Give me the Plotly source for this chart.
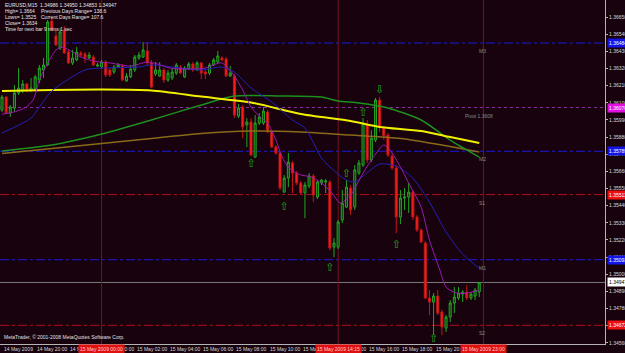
import plotly.graph_objects as go

# ---------------- data ----------------
bar_index = list(range(116))
opens = [1.36054, 1.36137, 1.36035, 1.36067, 1.36163, 1.36182, 1.36221, 1.36182, 1.36189, 1.36246,
         1.36311, 1.36343, 1.36625, 1.36529, 1.36452, 1.36567, 1.36426, 1.36356, 1.36375, 1.36420,
         1.36413, 1.36388, 1.36394, 1.36336, 1.36330, 1.36362, 1.36311, 1.36298, 1.36330, 1.36336,
         1.36240, 1.36266, 1.36311, 1.36388, 1.36394, 1.36433, 1.36356, 1.36285, 1.36272, 1.36311,
         1.36246, 1.36259, 1.36291, 1.36330, 1.36266, 1.36317, 1.36349, 1.36311, 1.36356, 1.36298,
         1.36291, 1.36343, 1.36362, 1.36388, 1.36381, 1.36272, 1.36272, 1.36015, 1.36073, 1.35958,
         1.35977, 1.35752, 1.35970, 1.35970, 1.36041, 1.35913, 1.35816, 1.35778, 1.35527, 1.35617,
         1.35714, 1.35649, 1.35585, 1.35521, 1.35566, 1.35630, 1.35495, 1.35585, 1.35592, 1.35592,
         1.35174, 1.35174, 1.35348, 1.35431, 1.35553, 1.35431, 1.35649, 1.35701, 1.35958, 1.35733,
         1.35861, 1.36118, 1.35938, 1.35893, 1.35758, 1.35681, 1.35367, 1.35489, 1.35495, 1.35527,
         1.35367, 1.35283, 1.35200, 1.34847, 1.34821, 1.34860, 1.34757, 1.34654, 1.34725, 1.34815,
         1.34847, 1.34872, 1.34885, 1.34847, 1.34860, 1.34886]
highs = [1.36150, 1.36144, 1.36086, 1.36214, 1.36323, 1.36246, 1.36227, 1.36259, 1.36279, 1.36343,
         1.36388, 1.36632, 1.36644, 1.36567, 1.36580, 1.36593, 1.36439, 1.36439, 1.36458, 1.36433,
         1.36426, 1.36426, 1.36407, 1.36356, 1.36375, 1.36375, 1.36323, 1.36343, 1.36356, 1.36349,
         1.36291, 1.36343, 1.36407, 1.36426, 1.36490, 1.36490, 1.36375, 1.36362, 1.36362, 1.36323,
         1.36311, 1.36323, 1.36356, 1.36343, 1.36336, 1.36362, 1.36362, 1.36368, 1.36362, 1.36311,
         1.36356, 1.36388, 1.36433, 1.36401, 1.36394, 1.36336, 1.36285, 1.36092, 1.36086, 1.36002,
         1.36002, 1.36022, 1.36035, 1.36073, 1.36054, 1.35925, 1.35829, 1.35791, 1.35637, 1.35778,
         1.35726, 1.35662, 1.35598, 1.35592, 1.35649, 1.35643, 1.35604, 1.35611, 1.35611, 1.35604,
         1.35232, 1.35348, 1.35540, 1.35604, 1.35572, 1.35701, 1.35733, 1.36002, 1.35990, 1.35925,
         1.36131, 1.36137, 1.35945, 1.35906, 1.35778, 1.35701, 1.35540, 1.35553, 1.35585, 1.35540,
         1.35380, 1.35296, 1.35213, 1.34898, 1.34879, 1.34898, 1.34770, 1.34738, 1.34834, 1.34917,
         1.34917, 1.34898, 1.34930, 1.34885, 1.34911, 1.34950]
lows = [1.36041, 1.36028, 1.36009, 1.36041, 1.36150, 1.36163, 1.36169, 1.36169, 1.36176, 1.36227,
        1.36259, 1.36336, 1.36561, 1.36465, 1.36439, 1.36413, 1.36349, 1.36343, 1.36368, 1.36394,
        1.36356, 1.36381, 1.36336, 1.36330, 1.36323, 1.36266, 1.36266, 1.36285, 1.36323, 1.36240,
        1.36234, 1.36259, 1.36298, 1.36375, 1.36388, 1.36343, 1.36195, 1.36272, 1.36266, 1.36227,
        1.36234, 1.36246, 1.36279, 1.36285, 1.36259, 1.36311, 1.36298, 1.36304, 1.36253, 1.36253,
        1.36279, 1.36336, 1.36356, 1.36368, 1.36266, 1.36266, 1.36002, 1.36002, 1.35874, 1.35816,
        1.35758, 1.35746, 1.35958, 1.35958, 1.35906, 1.35810, 1.35765, 1.35540, 1.35521, 1.35559,
        1.35521, 1.35572, 1.35515, 1.35360, 1.35553, 1.35463, 1.35482, 1.35572, 1.35521, 1.35155,
        1.35110, 1.35161, 1.35328, 1.35425, 1.35380, 1.35412, 1.35637, 1.35688, 1.35714, 1.35720,
        1.35848, 1.35913, 1.35861, 1.35752, 1.35669, 1.35264, 1.35322, 1.35412, 1.35393, 1.35348,
        1.35271, 1.35200, 1.34840, 1.34738, 1.34609, 1.34738, 1.34609, 1.34629, 1.34693, 1.34750,
        1.34834, 1.34821, 1.34834, 1.34834, 1.34834, 1.34853]
closes = [1.36137, 1.36035, 1.36073, 1.36163, 1.36195, 1.36221, 1.36182, 1.36195, 1.36266, 1.36323,
          1.36343, 1.36619, 1.36567, 1.36471, 1.36555, 1.36420, 1.36356, 1.36388, 1.36426, 1.36407,
          1.36388, 1.36407, 1.36343, 1.36343, 1.36362, 1.36279, 1.36279, 1.36330, 1.36343, 1.36246,
          1.36272, 1.36317, 1.36394, 1.36407, 1.36439, 1.36356, 1.36201, 1.36311, 1.36311, 1.36246,
          1.36291, 1.36298, 1.36343, 1.36291, 1.36323, 1.36349, 1.36311, 1.36356, 1.36291, 1.36285,
          1.36343, 1.36375, 1.36401, 1.36375, 1.36272, 1.36291, 1.36022, 1.36067, 1.35945, 1.35977,
          1.35765, 1.35970, 1.36009, 1.36047, 1.35913, 1.35816, 1.35778, 1.35553, 1.35617, 1.35720,
          1.35649, 1.35585, 1.35521, 1.35572, 1.35630, 1.35508, 1.35592, 1.35604, 1.35598, 1.35168,
          1.35200, 1.35335, 1.35457, 1.35559, 1.35412, 1.35669, 1.35714, 1.35970, 1.35733, 1.35874,
          1.36118, 1.35945, 1.35887, 1.35765, 1.35681, 1.35367, 1.35489, 1.35495, 1.35527, 1.35367,
          1.35283, 1.35206, 1.34847, 1.34821, 1.34860, 1.34750, 1.34661, 1.34725, 1.34815, 1.34853,
          1.34879, 1.34885, 1.34847, 1.34872, 1.34898, 1.34947]

# moving averages (sampled at bar positions)
ma_yellow_x = [0, 12, 24, 36, 48, 60, 72, 84, 91, 101, 108, 115]
ma_yellow_y = [1.36176, 1.36182, 1.36185, 1.36179, 1.36140, 1.36102, 1.36028, 1.35983, 1.35945, 1.35919, 1.35880, 1.35842]
ma_green_x = [0, 12, 24, 36, 48, 56, 67, 77, 81, 86, 93, 101, 108, 115]
ma_green_y = [1.35791, 1.35829, 1.35900, 1.35990, 1.36086, 1.36144, 1.36144, 1.36137, 1.36112, 1.36099, 1.36067, 1.35990, 1.35861, 1.35752]
ma_brown_x = [0, 12, 24, 36, 48, 60, 72, 84, 96, 106, 115]
ma_brown_y = [1.35775, 1.35807, 1.35839, 1.35871, 1.35903, 1.35919, 1.35913, 1.35893, 1.35871, 1.35829, 1.35784]
ma_blue_x = [0, 7, 9, 12, 20, 24, 33, 36, 48, 53, 56, 60, 65, 70, 73, 77, 79, 83, 85, 87, 91, 95, 99, 103, 107, 111, 115]
ma_blue_y = [1.35906, 1.36002, 1.36073, 1.36176, 1.36311, 1.36323, 1.36330, 1.36343, 1.36311, 1.36330, 1.36298,
             1.36195, 1.36105, 1.35990, 1.35938, 1.35746, 1.35688, 1.35604, 1.35592, 1.35630, 1.35707, 1.35694,
             1.35617, 1.35463, 1.35271, 1.35129, 1.35039]
ma_purple_x = [0, 2, 5.5, 7.5, 9, 10.5, 13, 14.5, 17, 19, 21, 23.5, 26, 31, 35, 37.5, 40.5, 45, 49, 51.5, 53,
               55.5, 58, 60, 62.5, 64, 66, 67.5, 69, 70.5, 72, 74.5, 77, 79.5, 81.5, 84, 87, 89.5, 92, 93.5,
               96, 98.5, 101, 103, 105.5, 107, 109.5, 112, 115]
ma_purple_y = [1.36028, 1.36035, 1.36067, 1.36118, 1.36246, 1.36330, 1.36439, 1.36458, 1.36426, 1.36394, 1.36375,
               1.36362, 1.36356, 1.36336, 1.36362, 1.36349, 1.36323, 1.36317, 1.36323, 1.36349, 1.36356,
               1.36291, 1.36182, 1.36073, 1.36002, 1.35970, 1.35861, 1.35752, 1.35688, 1.35656, 1.35637,
               1.35624, 1.35585, 1.35521, 1.35457, 1.35508, 1.35649, 1.35752, 1.35829, 1.35797,
               1.35688, 1.35559, 1.35431, 1.35219, 1.35027, 1.34917, 1.34879, 1.34879, 1.34898]

# fractal arrows
arrow_x = [60, 68, 79, 83, 87, 91, 95, 104]
arrow_y = [1.35704, 1.35428, 1.35041, 1.35641, 1.36033, 1.36178, 1.35184, 1.34584]
arrow_dir = ["up", "up", "up", "up", "up", "down", "up", "up"]

# pivot levels
pivot_names = ["M3", "Pivot 1.3608", "M2", "S1", "M1", "S2"]
pivot_levels = [1.36484, 1.36070, 1.35789, 1.35511, 1.35093, 1.34672]
pivot_kind = ["m", "p", "m", "s", "m", "s"]
current_price = 1.34947

# price axis ticks
price_ticks = [1.34560, 1.34670, 1.34780, 1.34890, 1.35000, 1.35110, 1.35220, 1.35330, 1.35440, 1.35550,
               1.35660, 1.35770, 1.35880, 1.35990, 1.36100, 1.36210, 1.36320, 1.36430, 1.36540, 1.36650]
# time axis labels
time_tick_bars = [0, 8, 16, 24, 32, 40, 48, 56, 64, 72, 80, 88, 96, 104, 112]
time_tick_text = ["14 May 2009", "14 May 20:00", "14 May 22:00", "15 May 00:00", "15 May 02:00",
                  "15 May 04:00", "15 May 06:00", "15 May 08:00", "15 May 10:00", "15 May 12:00",
                  "15 May 14:00", "15 May 16:00", "15 May 18:00", "15 May 20:00", "15 May 22:00"]
vline_bars = [24, 81, 116]
vline_text = ["15 May 2009 00:00", "15 May 2009 14:15", "15 May 2009 23:00"]

header_lines = ["EURUSD,M15  1.34986 1.34950 1.34853 1.34947",
                "High= 1.3664", "Lows= 1.3525", "Close= 1.3634",
                "Time for next bar 9 mins 1 sec"]
header_right = ["Previous Days Range= 138.6", "Current Days Range= 107.6"]

# ---------------- figure ----------------
BG = "#17020d"
W, H = 625, 353
PW, PH = 605, 344
FONT = "Liberation Sans"

def px(x):
    return x / PW

def py(y):
    return 1 - y / PH

fig = go.Figure()

ma_specs = [
    (ma_brown_x, ma_brown_y, "#8a6a1a", 1.5),
    (ma_green_x, ma_green_y, "#1f8f1f", 1.5),
    (ma_yellow_x, ma_yellow_y, "#f0f000", 2),
    (ma_blue_x, ma_blue_y, "#2222b8", 1),
    (ma_purple_x, ma_purple_y, "#9c1ab4", 1),
]
for xs, ys, col, w in ma_specs:
    fig.add_trace(go.Scatter(x=xs, y=ys, mode="lines",
                             line=dict(color=col, width=w, shape="spline", smoothing=0.7),
                             hoverinfo="skip", showlegend=False))

fig.add_trace(go.Candlestick(
    x=bar_index, open=opens, high=highs, low=lows, close=closes,
    increasing=dict(line=dict(color="#22a622", width=1), fillcolor="#0d3a10"),
    decreasing=dict(line=dict(color="#c41616", width=1), fillcolor="#ff2020"),
    whiskerwidth=0, showlegend=False))

fig.add_trace(go.Scatter(
    x=arrow_x, y=arrow_y, mode="text",
    text=["⇧" if d == "up" else "⇩" for d in arrow_dir],
    textposition="middle center",
    textfont=dict(color="#22a622", size=11, family="DejaVu Sans"),
    hoverinfo="skip", showlegend=False))

shapes = []
annotations = []

# pivot lines
for name, lvl, kind in zip(pivot_names, pivot_levels, pivot_kind):
    if kind == "m":
        col, dash, box = "#1c1cd8", "dashdot", "#1414e6"
    elif kind == "s":
        col, dash, box = "#b01020", "dashdot", "#ee1010"
    else:
        col, dash, box = "#8a2aa0", "dot", "#e010e0"
    shapes.append(dict(type="line", xref="paper", x0=0, x1=1, yref="y", y0=lvl, y1=lvl,
                       line=dict(color=col, width=1, dash=dash), layer="below"))
    lx = px(463) if kind == "p" else px(477)
    annotations.append(dict(xref="paper", yref="y", x=lx, y=lvl, yshift=-3, xanchor="left",
                            yanchor="top", text=name, showarrow=False,
                            font=dict(size=5, color="#8a8a8a", family=FONT)))
    annotations.append(dict(xref="paper", yref="y", x=1, xshift=2, y=lvl, xanchor="left",
                            yanchor="middle", text=f"{lvl:.5f}", showarrow=False, bgcolor=box,
                            borderpad=1, font=dict(size=5, color="#ffffff", family=FONT)))

# current price line
shapes.append(dict(type="line", xref="paper", x0=0, x1=1, yref="y", y0=current_price, y1=current_price,
                   line=dict(color="#7c7c7c", width=1), layer="below"))
annotations.append(dict(xref="paper", yref="y", x=1, xshift=2, y=current_price, xanchor="left",
                        yanchor="middle", text=f"{current_price:.5f}", showarrow=False, bgcolor="#ffffff",
                        borderpad=1, font=dict(size=5, color="#000000", family=FONT)))

# time axis labels (left-aligned at their bar, as in the terminal)
for b, t in zip(time_tick_bars, time_tick_text):
    annotations.append(dict(xref="x", yref="paper", x=b, y=py(349), xanchor="left", yanchor="middle",
                            text=t, showarrow=False, font=dict(size=5, color="#d8d8d8", family=FONT)))

# vertical separators
for b, t in zip(vline_bars, vline_text):
    shapes.append(dict(type="line", xref="x", x0=b, x1=b, yref="paper", y0=0, y1=1,
                       line=dict(color="#7a1222", width=1), layer="below"))
    annotations.append(dict(xref="x", yref="paper", x=b, y=py(349), xanchor="center",
                            yanchor="middle", text=t, showarrow=False, bgcolor="#e01010",
                            borderpad=1, font=dict(size=5, color="#ffd0d0", family=FONT)))

# header text
for k, line in enumerate(header_lines):
    annotations.append(dict(xref="paper", yref="paper", x=px(3), y=py(5 + 6 * k), xanchor="left",
                            yanchor="middle", text=line, showarrow=False,
                            font=dict(size=5, color="#e8e8e8", family=FONT)))
for k, line in enumerate(header_right):
    annotations.append(dict(xref="paper", yref="paper", x=px(39), y=py(11 + 6 * k), xanchor="left",
                            yanchor="middle", text=line, showarrow=False,
                            font=dict(size=5, color="#e8e8e8", family=FONT)))
annotations.append(dict(xref="paper", yref="paper", x=px(2), y=py(337), xanchor="left",
                        yanchor="middle", text="MetaTrader, © 2001-2008 MetaQuotes Software Corp.",
                        showarrow=False, font=dict(size=5, color="#e0e0e0", family=FONT)))

fig.update_layout(
    width=W, height=H,
    margin=dict(l=0, r=W - PW, t=0, b=H - PH, pad=0),
    paper_bgcolor=BG, plot_bgcolor=BG,
    showlegend=False,
    shapes=shapes, annotations=annotations,
    xaxis=dict(range=[-0.48, 145.3], showgrid=False, zeroline=False, automargin=False,
               showline=True, linecolor="#b4b4b4", linewidth=1, mirror=False,
               showticklabels=False, ticks="",
               rangeslider=dict(visible=False), fixedrange=True),
    yaxis=dict(range=[1.34552, 1.3676], side="right", showgrid=False, zeroline=False, automargin=False,
               showline=True, linecolor="#b4b4b4", linewidth=1, mirror=True,
               tickmode="array", tickvals=price_ticks, ticktext=[f"{v:.5f}" for v in price_ticks],
               ticks="outside", ticklen=2, tickcolor="#b4b4b4",
               tickfont=dict(size=5, color="#d8d8d8", family=FONT), fixedrange=True),
)

fig.write_html("out.html")
